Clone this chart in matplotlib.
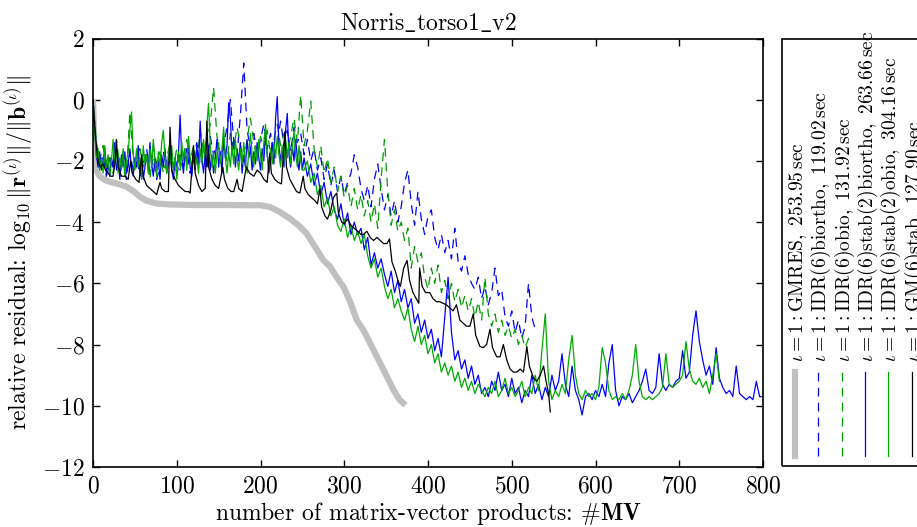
import numpy as np
import matplotlib
matplotlib.use("Agg")
import matplotlib.pyplot as plt
from matplotlib.lines import Line2D
from matplotlib.patches import Rectangle

plt.rcParams['font.family'] = 'serif'
plt.rcParams['font.serif'] = ['cmr10']
plt.rcParams['mathtext.fontset'] = 'cm'
plt.rcParams['axes.formatter.use_mathtext'] = True
plt.rcParams['axes.unicode_minus'] = True

# ---------------- data ----------------
gmres_x = [0, 1, 2, 4, 8, 14, 20, 30, 40, 48, 56, 64, 76, 90, 120, 160, 200, 211,
           222, 235, 245, 255, 265, 275, 283, 291, 299, 307, 315, 323, 335, 347, 359, 366, 373]
gmres_y = [0.0, -1.0, -1.8, -2.3, -2.5, -2.62, -2.68, -2.75, -2.84, -2.98, -3.17, -3.3, -3.39,
           -3.42, -3.44, -3.44, -3.45, -3.5, -3.65, -3.88, -4.1, -4.37, -4.8, -5.24, -5.45,
           -5.8, -6.11, -6.6, -7.2, -7.53, -8.18, -8.83, -9.49, -9.8, -9.98]

step = 4          # MV spacing of the sampled residual histories
step_early = 2    # finer sampling for the first 250 MV of the stab(2) runs
early_end = 250

biortho_y = [0.0, -1.6, -2.3, -1.8, -2.5, -1.9, -2.2, -1.5, -2.4, -2.0, -2.6, -1.7, -2.3,
    -1.8, -2.5, -2.1, -1.6, -2.4, -1.9, -2.6, -2.2, -1.7, -2.3, -1.5, -2.1, -2.5, -1.8, -2.2,
    -1.6, -2.4, -1.9, -1.4, -2.1, -1.6, -2.2, -1.2, -1.8, -1.4, -2.0, -1.5, -0.9, 0.0, -1.3,
    -1.8, -0.5, 1.2, -1.0, -1.6, -1.1, -1.8, -1.3, -0.8, -1.6, -1.1, -1.9, -1.4, -0.7, -1.5,
    -1.0, -1.7, -0.9, -1.4, -1.1,
    -1.8, -1.3, -2.0, -1.6, -2.3, -1.9, -2.6, -2.1, -2.8, -2.3, -3.0, -2.5, -3.1, -2.7, -2.4,
    -1.8, -2.2, -2.9, -3.3, -2.8, -3.5, -2.6, -2.1, -2.9, -3.6, -3.1, -3.8, -3.3, -4.0, -3.5,
    -2.7, -2.3, -3.4, -4.1, -3.0, -3.9, -4.4, -3.8, -3.6, -4.5, -4.9, -4.4, -5.0, -4.6, -5.2,
    -4.2, -5.3, -5.6, -5.1, -5.7, -6.0, -6.2, -5.8, -6.5, -6.1, -6.7, -6.3, -5.5, -6.4, -6.2,
    -7.1, -7.4, -6.9, -7.6, -7.2, -7.8, -7.4, -6.0, -7.1, -7.5]

obio_y = [0.0, -1.4, -2.0, -1.5, -2.3, -1.8, -2.4, -1.3, -2.2, -1.7, -2.4, -0.4, -1.9,
    -2.3, -1.6, -2.2, -1.8, -2.6, -1.5, -2.1, -1.7, -2.4, -1.9, -1.4, -2.2, -1.6, -2.3, -1.8,
    -1.3, -2.0, -1.5, -2.1, -1.0, -1.7, -1.3, -0.8, 0.4, -1.2, -1.8, -1.4, -2.0, -1.1, -1.6,
    -0.9, -1.5, -2.0, -1.3, -0.6, -1.4, -1.9, -1.2, -1.6, -1.0, -1.8, -1.3, -0.8, -1.5, -1.1,
    -1.7, -1.2, -0.6, -1.4, 0.15,
    -1.5, -1.0, -0.05, -1.6, -2.2, -1.5, -2.4, -1.9, -2.7, -2.2, -3.0, -2.5, -3.2, -2.8, -3.5,
    -2.9, -3.6, -3.1, -3.8, -3.3, -4.0, -3.4, -4.2, -2.6, -1.3, -3.0, -4.1, -3.6, -4.3, -4.0,
    -4.6, -4.2, -5.5, -4.8, -5.3, -5.0, -5.8, -6.2, -5.5, -6.0, -5.4, -6.3, -5.9, -6.5, -6.0,
    -6.6, -6.2, -6.8, -6.4, -6.9, -6.5, -7.1, -6.6, -7.2, -5.8, -7.0, -7.4, -7.0, -7.6, -7.2,
    -7.7, -7.4, -7.8, -7.5, -8.0, -7.7, -8.1, -7.8, -8.0]

# IDR(6)stab(2)biortho: 0..250 every 2 MV, then 252..800 every 4 MV
stab_biortho_early = [0.0, -0.9, -1.8, -2.2, -1.7, -2.3, -2.0, -1.6, -2.4, -2.1, -2.5, -1.9,
    -2.2, -1.4, -2.3, -2.0, -2.6, -1.8, -2.2, -1.7, -2.4, -2.1, -1.6, -2.3, -2.5, -1.9, -2.2,
    -1.5, -2.4, -2.0, -2.6, -2.2, -1.8, -2.3, -1.4, -2.1, -2.5, -1.9, -2.3, -2.0, -2.6, -1.8,
    -2.2, -1.6, -2.4, -2.1, -1.7, -2.3, -2.6, -1.9, -2.2, -1.8, -0.5, -1.9, -2.4, -1.7, -2.1,
    -1.5, -2.2, -2.5,
    -1.8, -2.3, -1.5, -2.1, -0.7, -1.9, -2.4, -1.7, -2.2, -1.5, -2.3, -1.8, -2.4, -1.9, -1.3,
    -2.2, -1.7, -2.4, -1.2, -1.9, -1.5, -0.1, -0.6, -1.8, -1.3, -2.2, -1.6, -2.0, -1.4, -2.4,
    -1.8, -2.2, -1.3, -1.9, -1.6, -2.3, -1.7, -2.1, -1.4, -1.9, -2.3, -1.6, -2.0, -1.1, -1.8,
    -2.4, -1.9, -1.4, -2.1, -0.6, 0.1, -1.5, -2.0, -1.6, -2.2, -1.0, -0.45, -1.8, -2.2, -1.5,
    -2.0, -1.3, -1.9, -2.3, -1.7, -2.3]
stab_biortho_late = [
    -1.9, -2.5, -2.1, -2.8, -2.4, -3.1, -2.7, -3.4, -3.0, -3.6, -3.9, -3.4, -4.1, -3.7, -4.4,
    -4.0, -4.4, -4.2, -4.9, -4.5, -5.4, -5.0, -5.5, -5.2, -5.7, -6.1, -5.6, -6.3, -5.9, -6.6,
    -6.2, -6.8, -6.5, -7.3, -7.0, -7.6, -7.2, -7.8, -7.5, -8.2, -7.8, -8.4, -7.1, -5.8, -7.6,
    -8.5, -8.2, -8.8, -8.5, -9.1, -8.7, -9.3, -9.0, -9.6, -9.4,
    -9.7, -9.2, -9.5, -8.9, -9.5, -9.3, -9.7, -9.1, -9.6, -9.4, -9.9, -9.5, -9.7, -9.0, -9.6,
    -9.3, -9.8, -9.4, -9.7, -9.0, -9.5, -9.2, -8.3, -9.3, -9.7, -8.7, -9.5, -9.8, -10.3, -9.7,
    -9.6, -9.8, -9.5, -9.7, -9.3, -9.7, -8.6, -8.0, -9.5, -10.0, -9.7, -9.8, -9.6, -9.9, -9.7,
    -9.5, -9.2, -8.8, -9.5, -9.6, -9.4, -8.3, -9.3, -9.5, -9.3, -9.4, -9.2, -9.1, -8.2, -9.1,
    -8.9, -7.7, -6.9, -7.9, -8.5, -9.0, -8.7, -9.3, -8.1, -9.1, -9.4, -9.6, -9.5, -9.7, -8.7,
    -9.6, -9.7, -9.8, -9.7, -9.8, -9.2, -9.7, -9.7]

# IDR(6)stab(2)obio: 0..250 every 2 MV, then 252..748 every 4 MV
stab_obio_early = [0.0, -1.0, -1.9, -1.6, -2.3, -1.9, -2.4, -1.5, -2.2, -1.8, -2.5, -2.0,
    -1.3, -2.1, -1.7, -2.4, -1.9, -2.3, -1.6, -2.5, -2.0, -1.7, -1.0, -0.4, -1.8, -2.3, -1.6,
    -2.2, -1.9, -2.6, -1.5, -2.1, -1.8, -2.4, -1.6, -2.2, -1.3, -2.0, -2.5, -1.7, -2.2, -1.4,
    -1.0, -1.9, -2.4, -1.8, -2.1, -1.5, -2.3, -1.9, -2.6, -1.7, -2.2, -1.4, -2.0, -1.6, -2.3,
    -1.2, -1.9, -2.2,
    -1.7, -2.2, -1.9, -2.4, -1.6, -2.1, -1.3, -1.9, -0.8, -0.12, -1.5, -2.2, -1.7, -2.4, -1.8,
    -1.4, -2.1, -1.6, -0.9, -1.9, -2.4, -1.7, -2.2, -1.5, -2.1, -1.3, -1.9, -2.3, -1.6, -2.1,
    -1.4, -2.0, -2.4, -1.7, -1.1, -1.8, -2.2, -1.5, -2.0, -1.3, -1.8, -2.3, -1.4, -0.8, -1.8,
    -2.2, -1.6, -2.1, -1.4, -1.9, -1.2, -1.8, -2.2, -1.5, -2.0, -1.3, -1.9, -1.4, -2.1, -1.6,
    -1.0, -1.8, -2.2, -1.5, -2.0, -2.3]
stab_obio_late = [
    -2.3, -2.0, -2.7, -2.4, -3.1, -2.8, -3.5, -3.2, -3.8, -3.5, -4.1, -4.3, -3.9, -4.5, -4.1,
    -4.6, -4.3, -4.7, -4.4, -5.1, -5.5, -5.2, -5.8, -5.5, -6.1, -6.5, -6.2, -6.8, -6.5, -6.9,
    -7.2, -6.8, -7.5, -7.9, -7.4, -8.0, -7.7, -8.3, -8.0, -8.6, -8.3, -8.9, -8.6, -9.0, -8.7,
    -9.2, -8.9, -9.4, -9.1, -9.5, -9.2, -9.6, -9.3, -9.5, -9.7,
    -9.4, -9.6, -9.2, -9.7, -9.5, -9.1, -9.6, -9.4, -9.7, -9.5, -9.2, -9.7, -9.4, -9.6, -9.0,
    -9.5, -8.2, -7.0, -9.2, -9.8, -9.5, -9.7, -9.3, -9.6, -8.5, -7.7, -9.0, -9.6, -9.8, -9.5,
    -9.7, -9.6, -9.8, -9.4, -8.1, -8.6, -9.5, -9.8, -9.7, -9.8, -9.6, -9.8, -9.5, -9.0, -8.0,
    -9.2, -9.7, -9.8, -9.7, -9.8, -9.7, -9.6, -9.4, -8.3, -9.3, -9.4, -9.3, -9.2, -9.0, -7.9,
    -8.8, -9.2, -9.3, -9.1, -9.4, -9.2, -9.6, -9.0, -8.3, -9.2]

gmstab_x = [0, 3, 6, 9, 12, 15, 18, 21, 24, 27, 28, 30, 34, 38, 42, 45, 47, 51, 55, 58, 60,
    64, 68, 72, 76, 80, 82, 86, 90, 92, 94, 98, 102, 106, 110, 114, 116, 120, 122, 126, 130,
    134, 136, 138, 142, 146, 150, 155, 157, 161, 165, 168, 172, 174, 178, 183, 187, 192, 196,
    200, 204, 208, 211, 213, 217, 221, 225, 229, 231, 235, 239, 243, 247, 251, 253, 257, 261,
    265, 268, 271, 273, 277, 280, 284, 287, 291, 293, 297, 300, 304, 308, 312, 316, 320, 323,
    327, 331, 335, 339, 343, 347, 351, 354, 357, 361, 364, 367, 371, 375, 378, 382, 386, 389,
    390, 393, 397, 402, 406, 410, 414, 418, 422, 426, 430, 434, 438, 442, 446, 450, 454, 457,
    462, 466, 470, 474, 477, 482, 486, 490, 494, 498, 502, 506, 510, 514, 518, 521, 526, 530,
    534, 538, 541, 544, 546]
gmstab_y = [0.0, -1.2, -2.0, -2.2, -2.1, -2.3, -2.4, -2.5, -2.5, -1.9, -1.3, -2.2, -2.5, -2.5,
    -2.6, -2.0, -2.4, -2.6, -2.7, -1.8, -2.5, -2.8, -2.9, -3.0, -3.1, -2.7, -2.9, -3.0, -3.0,
    -0.9, -2.3, -2.6, -2.8, -2.9, -3.0, -3.0, -3.05, -1.5, -2.4, -2.8, -3.0, -2.9, -0.7, -2.2,
    -2.6, -2.8, -2.9, -2.2, -2.6, -2.9, -3.0, -3.0, -2.6, -2.9, -3.0, -2.2, -2.4, -2.5, -2.3,
    -2.4, -2.6, -2.7, -1.75, -2.4, -2.6, -2.7, -2.75, -1.05, -2.2, -2.6, -2.8, -3.0, -3.05,
    -2.5, -2.9, -3.1, -3.2, -3.3, -3.4, -2.9, -3.5, -3.8, -3.9, -3.6, -3.2, -3.05, -3.7, -4.0,
    -4.05, -3.9, -4.1, -4.2, -4.3, -4.4, -4.4, -4.3, -4.5, -4.6, -4.5, -4.6, -4.7, -4.7, -4.55,
    -5.3, -5.6, -5.9, -6.1, -5.5, -5.25, -5.9, -6.3, -6.5, -6.65, -5.5, -6.1, -6.3, -6.3, -6.5,
    -6.6, -6.6, -6.65, -6.7, -6.8, -6.9, -6.7, -7.2, -7.3, -7.4, -7.4, -7.0, -7.7, -8.06, -8.1,
    -8.0, -7.5, -8.1, -8.4, -8.4, -8.0, -8.5, -8.8, -8.9, -8.9, -8.8, -8.9, -8.06, -8.7, -9.1,
    -9.2, -9.0, -8.7, -9.2, -9.6, -10.2]

labels = [r'$\iota = 1: \mathrm{GMRES},\ 253.95\,\mathrm{sec}$',
          r'$\iota = 1: \mathrm{IDR(6)biortho},\ 119.02\,\mathrm{sec}$',
          r'$\iota = 1: \mathrm{IDR(6)obio},\ 131.92\,\mathrm{sec}$',
          r'$\iota = 1: \mathrm{IDR(6)stab(2)biortho},\ 263.66\,\mathrm{sec}$',
          r'$\iota = 1: \mathrm{IDR(6)stab(2)obio},\ 304.16\,\mathrm{sec}$',
          r'$\iota = 1: \mathrm{GM(6)stab},\ 127.90\,\mathrm{sec}$']

xticks = [0, 100, 200, 300, 400, 500, 600, 700, 800]
yticks = [2, 0, -2, -4, -6, -8, -10, -12]

# ---------------- figure ----------------
W, H = 917, 527
fig = plt.figure(figsize=(W / 100, H / 100), dpi=100)
ax = fig.add_axes([93 / W, 1 - 467 / H, 670 / W, 428.5 / H])

def xs(vals, start=0, st=step):
    return [start + i * st for i in range(len(vals))]

def two_part(early, late):
    x = xs(early, 0, step_early) + xs(late, early_end + 2, step)
    return x, list(early) + list(late)

styles = [
    dict(color='#c0c0c0', lw=4.5, ls='-'),
    dict(color='#0000ff', lw=0.9, dashes=(7, 5)),
    dict(color='#009a00', lw=0.9, dashes=(7, 5)),
    dict(color='#0000ff', lw=0.9, ls='-'),
    dict(color='#00aa00', lw=0.9, ls='-'),
    dict(color='#000000', lw=0.9, ls='-'),
]

sbx, sby = two_part(stab_biortho_early, stab_biortho_late)
sox, soy = two_part(stab_obio_early, stab_obio_late)

ax.plot(gmres_x, gmres_y, solid_capstyle='butt', **styles[0])
ax.plot(xs(biortho_y), biortho_y, **styles[1])
ax.plot(xs(obio_y), obio_y, **styles[2])
ax.plot(sbx, sby, **styles[3])
ax.plot(sox, soy, **styles[4])
ax.plot(gmstab_x, gmstab_y, **styles[5])

ax.set_xlim(0, 800)
ax.set_ylim(-12, 2)
ax.set_xticks(xticks)
ax.set_yticks(yticks)
ax.tick_params(direction='in', length=5, width=1, top=True, right=True,
               labelsize=17, pad=6)
for s in ax.spines.values():
    s.set_linewidth(1.2)

ax.set_title(r'$\mathrm{Norris\_torso1\_v2}$', fontsize=17, pad=6)
ax.set_xlabel(r'number of matrix-vector products: $\#\mathbf{MV}$', fontsize=17, labelpad=2)
ax.set_ylabel(r'relative residual: $\log_{10}\Vert\mathbf{r}^{(\iota)}\Vert/\Vert\mathbf{b}^{(\iota)}\Vert$',
              fontsize=17, labelpad=4)

# ---------------- rotated legend ----------------
fig.patches.append(Rectangle((782 / W, 1 - 466 / H), (960 - 782) / W, 427 / H,
                             transform=fig.transFigure, fill=False, lw=1.2,
                             edgecolor='black'))
col_x = [795, 818.3, 841.7, 865, 888.3, 911.7]
for i, (cx, lab) in enumerate(zip(col_x, labels)):
    st = dict(styles[i])
    fig.lines.append(Line2D([cx / W, cx / W], [1 - 456 / H, 1 - 372 / H],
                            transform=fig.transFigure, **st))
    fig.text((cx + 3) / W, 1 - 362 / H, lab, rotation=90, ha='center', va='bottom',
             fontsize=14)

fig.savefig('out.png', dpi=100)
